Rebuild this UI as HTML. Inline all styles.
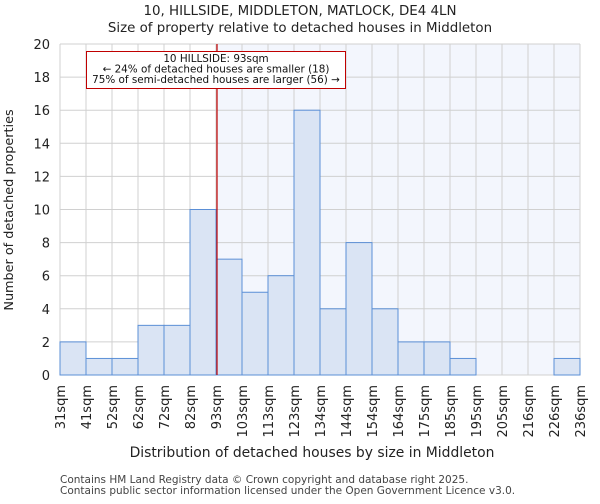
<!DOCTYPE html>
<html><head><meta charset="utf-8"><style>
body{margin:0;background:#fff;font-family:"DejaVu Sans","Liberation Sans",sans-serif}
svg text{font-family:"DejaVu Sans","Liberation Sans",sans-serif}
</style></head><body>
<svg id="c" width="600" height="500" xmlns="http://www.w3.org/2000/svg">
<text x="300" y="15" text-anchor="middle" font-size="13.4" fill="#222">10, HILLSIDE, MIDDLETON, MATLOCK, DE4 4LN</text>
<text x="300" y="32" text-anchor="middle" font-size="13.4" fill="#222">Size of property relative to detached houses in Middleton</text>
<g id="plot"></g>
<text x="312" y="457" text-anchor="middle" font-size="13.9" fill="#222">Distribution of detached houses by size in Middleton</text>
<text transform="translate(13,210) rotate(-90)" text-anchor="middle" font-size="12.8" fill="#222">Number of detached properties</text>
<text x="60" y="483" font-size="10.5" fill="#444">Contains HM Land Registry data © Crown copyright and database right 2025.</text>
<text x="60" y="494" font-size="10.5" fill="#444">Contains public sector information licensed under the Open Government Licence v3.0.</text>
</svg>
<script>
const categories=["31sqm","41sqm","52sqm","62sqm","72sqm","82sqm","93sqm","103sqm","113sqm","123sqm","134sqm","144sqm","154sqm","164sqm","175sqm","185sqm","195sqm","205sqm","216sqm","226sqm","236sqm"];
const values=[2,1,1,3,3,10,7,5,6,16,4,8,4,2,2,1,0,0,0,1];
const yTicks=[0,2,4,6,8,10,12,14,16,18,20];
const markerIndex=6;
const NS="http://www.w3.org/2000/svg";
const L=60,R=580,T=44,B=375,YMAX=20;
const bw=(R-L)/values.length;
const x=i=>L+i*bw;
const y=v=>B-(v/YMAX)*(B-T);
const g=document.getElementById('plot');
function mk(t,a){const e=document.createElementNS(NS,t);for(const k in a)e.setAttribute(k,a[k]);g.appendChild(e);return e;}
let e=mk('rect',{x:x(markerIndex),y:T,width:R-x(markerIndex),height:B-T,fill:'#f3f6fd'});


yTicks.forEach(t=>{
 let l=mk('line',{x1:L,x2:R,y1:y(t),y2:y(t),stroke:'#d0d0d0','stroke-width':1});
 
 
 let tx=mk('text',{x:L-10,y:y(t)+5,'text-anchor':'end','font-size':'13',fill:'#222'});tx.textContent=t;
 
 
});
categories.forEach((c,i)=>{
 let l=mk('line',{x1:x(i),x2:x(i),y1:T,y2:B,stroke:'#d0d0d0','stroke-width':1});
 
 
 let tx=mk('text',{transform:`translate(${x(i)+5},${B+10}) rotate(-90)`,'text-anchor':'end','font-size':'13',fill:'#222'});tx.textContent=c;
 
 
});
values.forEach((v,i)=>{
 if(v<=0)return;
 let r=mk('rect',{x:x(i),y:y(v),width:bw,height:B-y(v),fill:'#dae4f4',stroke:'#5b8fd6','stroke-width':1});
 
 
});
let ml=mk('line',{x1:x(markerIndex)+1,x2:x(markerIndex)+1,y1:T,y2:B,stroke:'#c00000','stroke-width':1.2});


let box=mk('rect',{x:86.5,y:51.5,width:259,height:37,fill:'#fff',stroke:'#c00000','stroke-width':1});


["10 HILLSIDE: 93sqm","← 24% of detached houses are smaller (18)","75% of semi-detached houses are larger (56) →"].forEach((s,k)=>{
 let t=mk('text',{x:216,y:62+k*10.5,'text-anchor':'middle','font-size':'10.4',fill:'#111'});t.textContent=s;
 
 
});
</script>
</body></html>
